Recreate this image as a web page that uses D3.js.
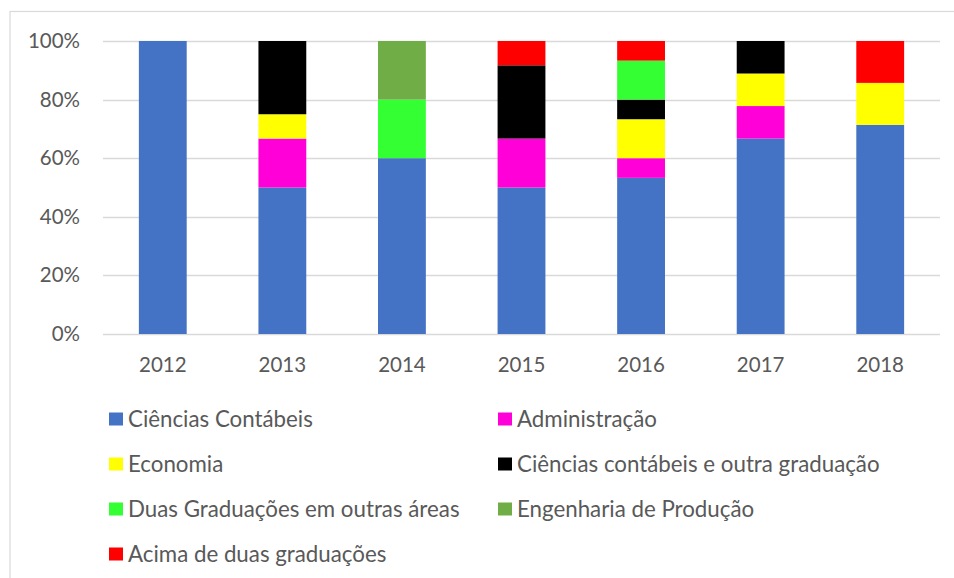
<!DOCTYPE html>
<html>
<head>
<meta charset="utf-8">
<script src="https://cdn.jsdelivr.net/npm/d3@7"></script>
<style>
  html, body { margin: 0; padding: 0; background: #fff; }
  svg { display: block; font-family: Lato, "Open Sans", sans-serif; }
</style>
</head>
<body>
<svg id="chart" width="954" height="578"></svg>
<script>
const years = ["2012", "2013", "2014", "2015", "2016", "2017", "2018"];
const seriesNames = [
  "Ciências Contábeis",
  "Administração",
  "Economia",
  "Ciências contábeis e outra graduação",
  "Duas Graduações em outras áreas",
  "Engenharia de Produção",
  "Acima de duas graduações"
];
const seriesColors = ["#4472C4", "#FF00D8", "#FFFF00", "#000000", "#33FF33", "#70AD47", "#FF0000"];
// percentage per year for each series
const cienciasContabeis = [100, 50, 60, 50, 53.3, 66.7, 71.4];
const administracao     = [0, 16.7, 0, 16.7, 6.7, 11.1, 0];
const economia          = [0, 8.3, 0, 0, 13.3, 11.1, 14.3];
const contabeisOutra    = [0, 25, 0, 25, 6.7, 11.1, 0];
const duasOutras        = [0, 0, 20, 0, 13.3, 0, 0];
const engenharia        = [0, 0, 20, 0, 0, 0, 0];
const acimaDuas         = [0, 0, 0, 8.3, 6.7, 0, 14.3];
const yTicks = [0, 20, 40, 60, 80, 100];

const seriesValues = [cienciasContabeis, administracao, economia, contabeisOutra, duasOutras, engenharia, acimaDuas];

const table = years.map((y, i) => {
  const row = { year: y };
  seriesNames.forEach((n, k) => row[n] = seriesValues[k][i]);
  return row;
});

const FONT = "Lato";
const FS = "20.5px";
const LFS = "22.3px";
const svg = d3.select("#chart");

// outer frame
svg.append("rect")
  .attr("x", 10).attr("y", 11.5)
  .attr("width", 960).attr("height", 600)
  .attr("fill", "none").attr("stroke", "#d9d9d9").attr("stroke-width", 1.2);

const plot = { left: 103, right: 940, top: 41, bottom: 334 };

const x = d3.scaleBand().domain(years).range([plot.left, plot.right]).paddingInner(0.6).paddingOuter(0.3);
const y = d3.scaleLinear().domain([0, 100]).range([plot.bottom, plot.top]);

// gridlines
svg.append("g")
  .selectAll("line")
  .data(yTicks)
  .join("line")
  .attr("x1", plot.left).attr("x2", plot.right)
  .attr("y1", d => Math.round(y(d)) + 0.5).attr("y2", d => Math.round(y(d)) + 0.5)
  .attr("stroke", "#d9d9d9").attr("stroke-width", 1.3);

// y axis labels
const yAxis = d3.axisLeft(y).tickValues(yTicks).tickFormat(d => d + "%").tickSize(0).tickPadding(0);
const gy = svg.append("g").attr("transform", `translate(80,0)`).call(yAxis);
gy.select(".domain").remove();
gy.selectAll("text").attr("fill", "#595959").style("font-size", FS).style("font-family", FONT);

// stacked bars
const stack = d3.stack().keys(seriesNames);
const layers = stack(table);

svg.append("g")
  .selectAll("g")
  .data(layers)
  .join("g")
  .attr("fill", (d, i) => seriesColors[i])
  .selectAll("rect")
  .data(d => d)
  .join("rect")
  .attr("x", d => x(d.data.year))
  .attr("width", x.bandwidth())
  .attr("y", d => y(d[1]))
  .attr("height", d => y(d[0]) - y(d[1]));

// x axis labels
const xAxis = d3.axisBottom(x).tickSize(0).tickPadding(0);
const gx = svg.append("g").attr("transform", `translate(0,${plot.bottom + 23})`).call(xAxis);
gx.select(".domain").remove();
gx.selectAll("text").attr("fill", "#595959").style("font-size", FS).style("font-family", FONT).attr("dy", "0.71em");

// legend
const legendCols = [109, 498];
const legendRowY = [419, 464, 509, 554];
const legend = svg.append("g");
seriesNames.forEach((n, i) => {
  const cx = legendCols[i % 2];
  const cy = legendRowY[Math.floor(i / 2)];
  legend.append("rect")
    .attr("x", cx).attr("y", cy - 6.5)
    .attr("width", 14).attr("height", 13)
    .attr("fill", seriesColors[i]);
  legend.append("text")
    .attr("x", cx + 19).attr("y", cy)
    .attr("dy", "0.35em")
    .attr("fill", "#595959")
    .style("font-size", LFS)
    .style("font-family", FONT)
    .text(n);
});
</script>
</body>
</html>
